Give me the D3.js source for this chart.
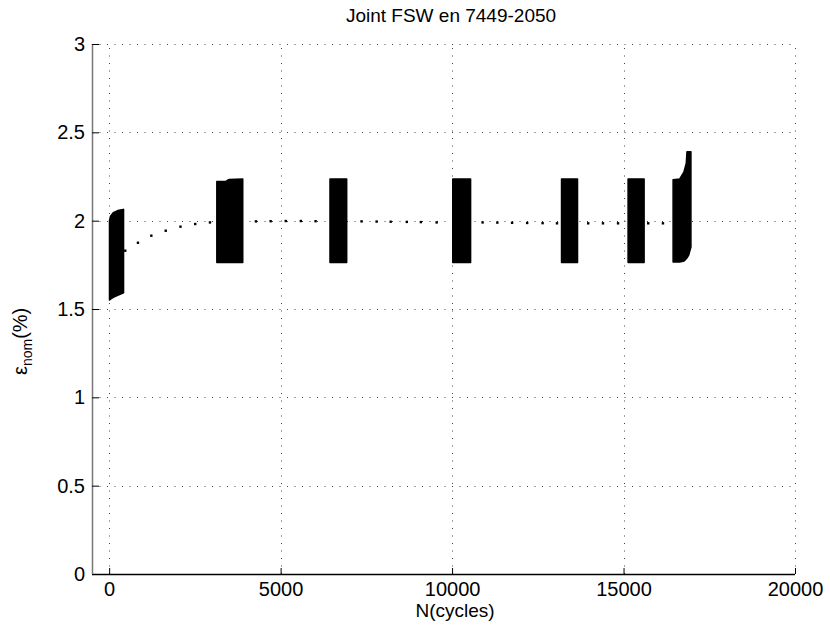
<!DOCTYPE html>
<html>
<head>
<meta charset="utf-8">
<script src="https://cdn.jsdelivr.net/npm/d3@7/dist/d3.min.js"></script>
<style>
  html, body { margin: 0; padding: 0; background: #fff; }
  svg { display: block; font-family: "Liberation Sans", Arial, Helvetica, sans-serif; }
</style>
</head>
<body>
<svg id="chart" width="830" height="630"></svg>
<script>
// ---- data ----
const title = "Joint FSW en 7449-2050";
const xLabel = "N(cycles)";
const xTicks = [0, 5000, 10000, 15000, 20000];
const yTicks = [0, 0.5, 1, 1.5, 2, 2.5, 3];
const yTickLabels = ["0", "0.5", "1", "1.5", "2", "2.5", "3"];

// mean strain recorded between the dense blocks: [N, strain %]
const meanN = [470, 840, 1230, 1650, 2080, 2510, 2940, 4280, 4710, 5150, 5590, 6020,
               7360, 7800, 8210, 8680, 9090, 9550, 10890, 11320, 11750, 12190, 12640, 13060,
               13970, 14400, 14840, 15720, 16150];
const meanStrain = [1.83, 1.875, 1.915, 1.943, 1.966, 1.981, 1.99, 1.996, 1.997, 1.998, 1.998, 1.997,
                    1.996, 1.995, 1.994, 1.993, 1.992, 1.99, 1.99, 1.989, 1.988, 1.987, 1.986, 1.985,
                    1.985, 1.985, 1.985, 1.985, 1.985];

// envelopes of densely recorded cycles: [N, min strain, max strain]
const block1 = [[10, 1.551, 2.00], [40, 1.556, 2.025], [120, 1.566, 2.045], [250, 1.578, 2.057], [420, 1.592, 2.064]];
const block2 = [[3140, 1.763, 2.222], [3400, 1.763, 2.222], [3500, 1.763, 2.233], [3896, 1.763, 2.236]];
const block3 = [[6440, 1.763, 2.236], [6927, 1.763, 2.236]];
const block4 = [[10020, 1.763, 2.236], [10540, 1.763, 2.236]];
const block5 = [[13192, 1.763, 2.236], [13658, 1.763, 2.236]];
const block6 = [[15133, 1.763, 2.236], [15600, 1.763, 2.236]];
const block7 = [[16445, 1.766, 2.232], [16640, 1.766, 2.236], [16760, 1.771, 2.275], [16830, 1.784, 2.325],
                [16850, 1.79, 2.39], [16900, 1.805, 2.39], [16965, 1.85, 2.39]];
const blocks = [block1, block2, block3, block4, block5, block6, block7];

// ---- layout ----
const svg = d3.select("#chart");
const L = 92, R = 795, T = 44, B = 574;
const x = d3.scaleLinear().domain([-500, 20000]).range([L, R]);
const y = d3.scaleLinear().domain([0, 3]).range([B, T]);

// grid
const grid = svg.append("g").attr("stroke", "#444").attr("stroke-width", 1).attr("stroke-dasharray", "1,6.5");
grid.selectAll("line.v").data(xTicks).join("line")
  .attr("x1", d => Math.round(x(d)) + 0.5).attr("x2", d => Math.round(x(d)) + 0.5)
  .attr("y1", B).attr("y2", T);
grid.selectAll("line.h").data(yTicks).join("line")
  .attr("y1", d => Math.round(y(d)) + 0.5).attr("y2", d => Math.round(y(d)) + 0.5)
  .attr("x1", L).attr("x2", R);

// blocks
const area = d3.area().x(d => x(d[0])).y0(d => y(d[1])).y1(d => y(d[2]));
svg.append("g").selectAll("path").data(blocks).join("path")
  .attr("d", area)
  .attr("fill", "#000").attr("stroke", "#000").attr("stroke-width", 1.5).attr("stroke-linejoin", "round");

// mean points
svg.append("g").selectAll("rect").data(meanN).join("rect")
  .attr("x", (d) => x(d) - 1.2).attr("y", (d, i) => y(meanStrain[i]) - 1.2)
  .attr("width", 2.4).attr("height", 2.4).attr("fill", "#000");

// axes
const xAxis = d3.axisBottom(x).tickValues(xTicks).tickSize(-6).tickPadding(8).tickFormat(d3.format("d"));
const gx = svg.append("g").attr("transform", `translate(0,${B})`).call(xAxis);
gx.select(".domain").attr("d", `M${L},0.5H${R}`).attr("stroke", "#000").attr("stroke-width", 1.5);
gx.selectAll(".tick line").attr("stroke", "#000");
gx.selectAll(".tick text").attr("font-size", 20).attr("fill", "#000");

const yAxis = d3.axisLeft(y).tickValues(yTicks).tickSize(-7).tickPadding(7).tickFormat((d, i) => yTickLabels[i]);
const gy = svg.append("g").attr("transform", `translate(${L},0)`).call(yAxis);
gy.select(".domain").attr("d", `M0.5,${B}V${T}`).attr("stroke", "#777").attr("stroke-width", 1.5);
gy.selectAll(".tick line").attr("stroke", "#000");
gy.selectAll(".tick text").attr("font-size", 20).attr("fill", "#000");
gx.attr("font-family", null); gy.attr("font-family", null);

// title & labels
svg.append("text").attr("x", 451).attr("y", 22).attr("text-anchor", "middle")
  .attr("font-size", 19).text(title);
svg.append("text").attr("x", 455).attr("y", 617).attr("text-anchor", "middle")
  .attr("font-size", 19).text(xLabel);
const yl = svg.append("text").attr("transform", "translate(27,375) rotate(-90)")
  .attr("text-anchor", "start").attr("font-size", 20);
yl.append("tspan").text("ε");
yl.append("tspan").attr("font-size", 14).attr("dy", 5).text("nom");
yl.append("tspan").attr("dy", -5).text("(%)");
</script>
</body>
</html>
